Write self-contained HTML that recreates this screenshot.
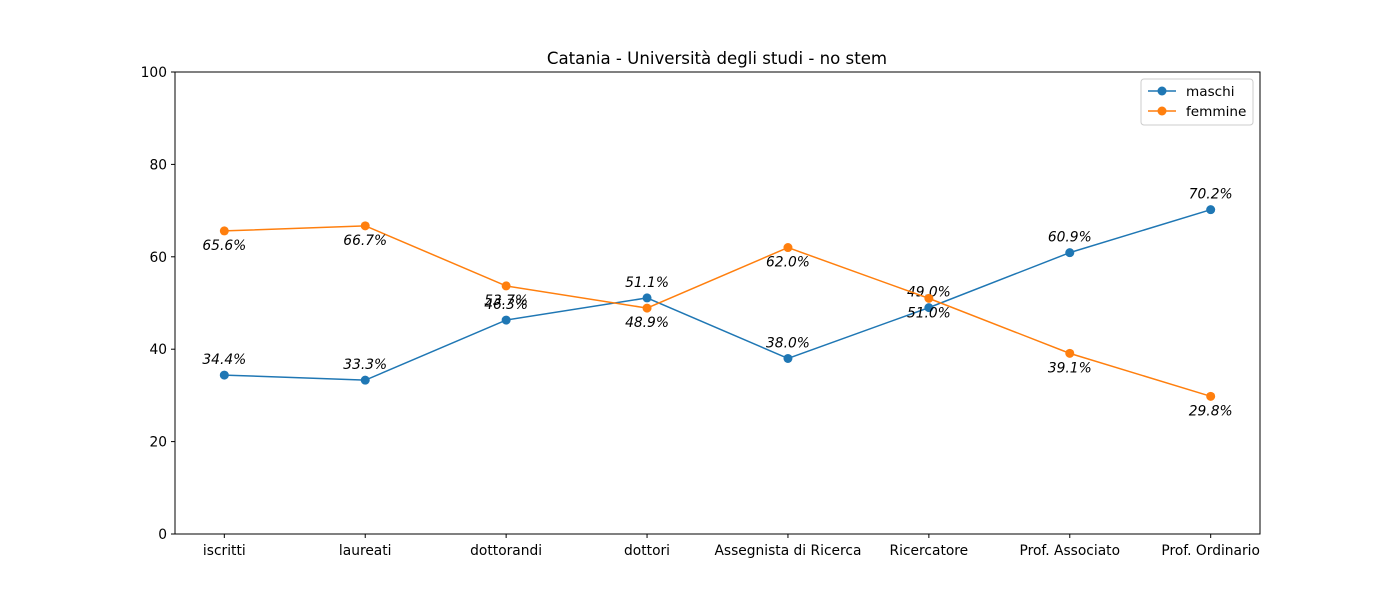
<!DOCTYPE html>
<html><head><meta charset="utf-8"><style>
body{margin:0;background:#fff;font-family:"Liberation Sans","DejaVu Sans",sans-serif;}
</style></head><body>
<svg id="chart" width="1400" height="600" xmlns="http://www.w3.org/2000/svg" font-family="'DejaVu Sans','Liberation Sans',sans-serif">
<rect width="1400" height="600" fill="#fff"/>
<text x="717" y="64" text-anchor="middle" font-size="16.6">Catania - Università degli studi - no stem</text>
<g id="plot"></g>
<rect x="175" y="72" width="1085" height="462" fill="none" stroke="#000" stroke-width="1"/>
<g>
<rect x="1141" y="79" width="112" height="46" rx="3" fill="#fff" stroke="#ccc"/>
<g><line x1="1148" y1="91" x2="1176" y2="91" stroke="#1f77b4" stroke-width="1.5"/><circle cx="1162" cy="91" r="4.5" fill="#1f77b4"/><text x="1186" y="96" font-size="13.6">maschi</text></g>
<g><line x1="1148" y1="111" x2="1176" y2="111" stroke="#ff7f0e" stroke-width="1.5"/><circle cx="1162" cy="111" r="4.5" fill="#ff7f0e"/><text x="1186" y="116" font-size="13.6">femmine</text></g>
</g>
</svg>
<script>
const categories=["iscritti","laureati","dottorandi","dottori","Assegnista di Ricerca","Ricercatore","Prof. Associato","Prof. Ordinario"];
const maschi=[34.4,33.3,46.3,51.1,38.0,49.0,60.9,70.2];
const femmine=[65.6,66.7,53.7,48.9,62.0,51.0,39.1,29.8];
const yTicks=[0,20,40,60,80,100];
const NS="http://www.w3.org/2000/svg";
const L=175,R=1260,T=72,B=534;
const FS=13.8;
function x(i){return L+(i+0.35)*(R-L)/(categories.length-1+0.7);}
function y(v){return B-v/100*(B-T);}
const g=document.getElementById('plot');
function mk(tag,attrs){const e=document.createElementNS(NS,tag);for(const k in attrs)e.setAttribute(k,attrs[k]);g.appendChild(e);return e;}
yTicks.forEach(v=>{
 const t=mk('line',{x1:L-4,x2:L,y1:y(v),y2:y(v),stroke:'#000'});
 
 
 const tx=mk('text',{x:L-8,y:y(v)+5,'text-anchor':'end','font-size':FS});
 tx.textContent=v;
 
 
});
categories.forEach((c,i)=>{
 const t=mk('line',{x1:x(i),x2:x(i),y1:B,y2:B+4,stroke:'#000'});
 
 
 const tx=mk('text',{x:x(i),y:B+21,'text-anchor':'middle','font-size':FS});
 tx.textContent=c;
 
 
});
function series(vals,color,name,off){
 const p=mk('polyline',{points:vals.map((v,i)=>x(i)+','+y(v)).join(' '),fill:'none',stroke:color,'stroke-width':1.5});
 
 
 vals.forEach((v,i)=>{
  const c=mk('circle',{cx:x(i),cy:y(v),r:4.5,fill:color});
  
  
 });
 vals.forEach((v,i)=>{
  const t=mk('text',{x:x(i),y:y(v)+off,'text-anchor':'middle','font-size':FS,'font-style':'italic'});
  t.textContent=v.toFixed(1)+'%';
  
  
 });
}
series(maschi,'#1f77b4','maschi',-11);
series(femmine,'#ff7f0e','femmine',19);
</script>
</body></html>
